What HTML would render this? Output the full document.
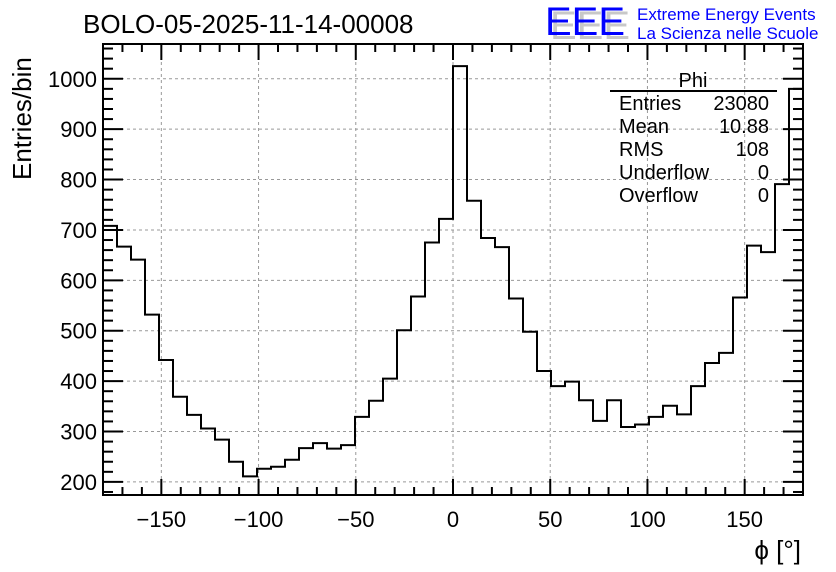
<!DOCTYPE html>
<html><head><meta charset="utf-8"><style>
html,body{margin:0;padding:0;background:#fff;}
svg{display:block;font-family:"Liberation Sans",Arial,sans-serif;}
</style></head><body>
<svg id="chart" width="836" height="572" viewBox="0 0 836 572" xmlns="http://www.w3.org/2000/svg">
<rect width="836" height="572" fill="#fff"/>
<text x="83" y="33" font-size="26">BOLO-05-2025-11-14-00008</text>
<g>
<text x="550" y="39" font-size="40" fill="#c8c8c8">EEE</text>
<text x="545" y="35" font-size="40" fill="#0000ff">EEE</text>
<text x="637" y="20" font-size="17" fill="#0000ff">Extreme Energy Events</text>
<text x="637" y="39" font-size="17" fill="#0000ff">La Scienza nelle Scuole</text>
</g>
<g id="grid"></g>
<g id="hist"></g>
<g id="axes"></g>
<g font-size="20">
<text x="693" y="87" text-anchor="middle">Phi</text>
<line x1="610" y1="91" x2="777" y2="91" stroke="#000" stroke-width="2"/>
<text x="619" y="110">Entries</text><text x="769" y="110" text-anchor="end">23080</text>
<text x="619" y="133">Mean</text><text x="769" y="133" text-anchor="end">10.88</text>
<text x="619" y="156">RMS</text><text x="769" y="156" text-anchor="end">108</text>
<text x="619" y="179">Underflow</text><text x="769" y="179" text-anchor="end">0</text>
<text x="619" y="202">Overflow</text><text x="769" y="202" text-anchor="end">0</text>
</g>
<text transform="translate(31,180) rotate(-90)" font-size="26">Entries/bin</text>
<text x="801" y="559" text-anchor="end" font-size="26">ϕ [°]</text>
</svg>
<script>
const binCounts = [708,667,641,532,442,369,333,306,284,240,211,226,230,244,267,277,266,273,329,361,405,501,568,675,722,1025,758,684,666,564,498,420,390,399,362,321,362,309,314,329,351,334,390,436,456,566,669,656,791,980];
const xTickValues = [-150,-100,-50,0,50,100,150];
const yTickValues = [200,300,400,500,600,700,800,900,1000];
const xMin=-180, xMax=180, yMin=174, yMax=1069;
const L=103, R=803, T=44, B=495;
const NS="http://www.w3.org/2000/svg";
function sx(v){return L+(v-xMin)/(xMax-xMin)*(R-L);}
function sy(v){return B-(v-yMin)/(yMax-yMin)*(B-T);}
function mk(tag,attrs,parent){const e=document.createElementNS(NS,tag);for(const k in attrs)e.setAttribute(k,attrs[k]);parent.appendChild(e);return e;}
const grid=document.getElementById('grid'), hist=document.getElementById('hist'), axes=document.getElementById('axes');
xTickValues.forEach(v=>{const l=mk('line',{x1:sx(v),x2:sx(v),y1:T,y2:B,stroke:'#999','stroke-width':1,'stroke-dasharray':'3,3'},grid);

});
yTickValues.forEach(v=>{const l=mk('line',{x1:L,x2:R,y1:sy(v),y2:sy(v),stroke:'#999','stroke-width':1,'stroke-dasharray':'3,3'},grid);

});
const bw=(xMax-xMin)/binCounts.length;
let d='M'+sx(xMin)+','+sy(binCounts[0]);
binCounts.forEach((c,i)=>{const x0=xMin+i*bw,x1=x0+bw;d+=' L'+sx(x0)+','+sy(c)+' L'+sx(x1)+','+sy(c);});
const p=mk('path',{d:d,fill:'none',stroke:'#000','stroke-width':2},hist);


const fr=mk('rect',{x:L,y:T,width:R-L,height:B-T,fill:'none',stroke:'#000','stroke-width':2},axes);


for(let v=-180;v<=180;v+=10){const major=v%50===0;const len=major?16:8;
mk('line',{x1:sx(v),x2:sx(v),y1:B,y2:B-len,stroke:'#000','stroke-width':2},axes);
mk('line',{x1:sx(v),x2:sx(v),y1:T,y2:T+len,stroke:'#000','stroke-width':2},axes);}
for(let v=180;v<=1060;v+=20){const major=v%100===0;const len=major?20:10;
mk('line',{x1:L,x2:L+len,y1:sy(v),y2:sy(v),stroke:'#000','stroke-width':2},axes);
mk('line',{x1:R,x2:R-len,y1:sy(v),y2:sy(v),stroke:'#000','stroke-width':2},axes);}
xTickValues.forEach(v=>{const t=mk('text',{x:sx(v),y:527,'text-anchor':'middle','font-size':22},axes);t.textContent=(v<0?'\u2212'+(-v):String(v));

});
yTickValues.forEach(v=>{const t=mk('text',{x:97,y:sy(v)+8,'text-anchor':'end','font-size':22},axes);t.textContent=String(v);

});
</script>
</body></html>
